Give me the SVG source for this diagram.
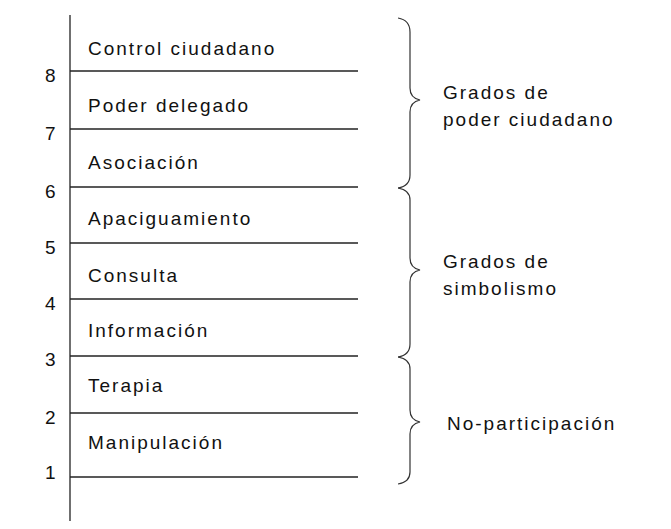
<svg xmlns="http://www.w3.org/2000/svg" width="671" height="529" viewBox="0 0 671 529">
<style>
text{font-family:"Liberation Sans",Arial,sans-serif;font-size:19px;letter-spacing:2px;fill:#111}
.l{stroke:#222;stroke-width:1.3;fill:none}
.b{stroke:#333;stroke-width:1.2;fill:none}
</style>
<rect width="671" height="529" fill="#fff"/>
<g id="connectors">
<line class="l" x1="70" y1="15" x2="70" y2="521"/>
<line class="l" x1="70" y1="71" x2="358" y2="71"/>
<line class="l" x1="70" y1="129" x2="358" y2="129"/>
<line class="l" x1="70" y1="187" x2="358" y2="187"/>
<line class="l" x1="70" y1="243" x2="358" y2="243"/>
<line class="l" x1="70" y1="299" x2="358" y2="299"/>
<line class="l" x1="70" y1="356" x2="358" y2="356"/>
<line class="l" x1="70" y1="413" x2="358" y2="413"/>
<line class="l" x1="70" y1="477" x2="358" y2="477"/>
</g>
<g id="numbers">
<text x="45" y="82">8</text><text x="45" y="140">7</text><text x="45" y="198">6</text>
<text x="45" y="254">5</text><text x="45" y="310">4</text><text x="45" y="366">3</text>
<text x="45" y="424">2</text><text x="45" y="479">1</text>
</g>
<g id="levels">
<text x="88" y="55">Control ciudadano</text>
<text x="88" y="112">Poder delegado</text>
<text x="88" y="169">Asociación</text>
<text x="88" y="225">Apaciguamiento</text>
<text x="88" y="282">Consulta</text>
<text x="88" y="337">Información</text>
<text x="88" y="392">Terapia</text>
<text x="88" y="449">Manipulación</text>
</g>
<g id="brace1"><path class="b" d="M398,18 Q410,20 410,32 L410,88 Q410,98 420,100 Q410,102 410,112 L410,175 Q410,186 398,188"/>
<text x="443" y="99">Grados de</text><text x="443" y="126">poder ciudadano</text></g>
<g id="brace2"><path class="b" d="M398,188 Q410,190 410,200 L410,258 Q410,268 420,270 Q410,272 410,282 L410,344 Q410,355 398,357"/>
<text x="443" y="268">Grados de</text><text x="443" y="295">simbolismo</text></g>
<g id="brace3"><path class="b" d="M398,357 Q410,359 410,369 L410,410 Q410,420 420,422 Q410,424 410,434 L410,472 Q410,482 398,484"/>
<text x="447" y="430">No-participación</text></g>
</svg>
